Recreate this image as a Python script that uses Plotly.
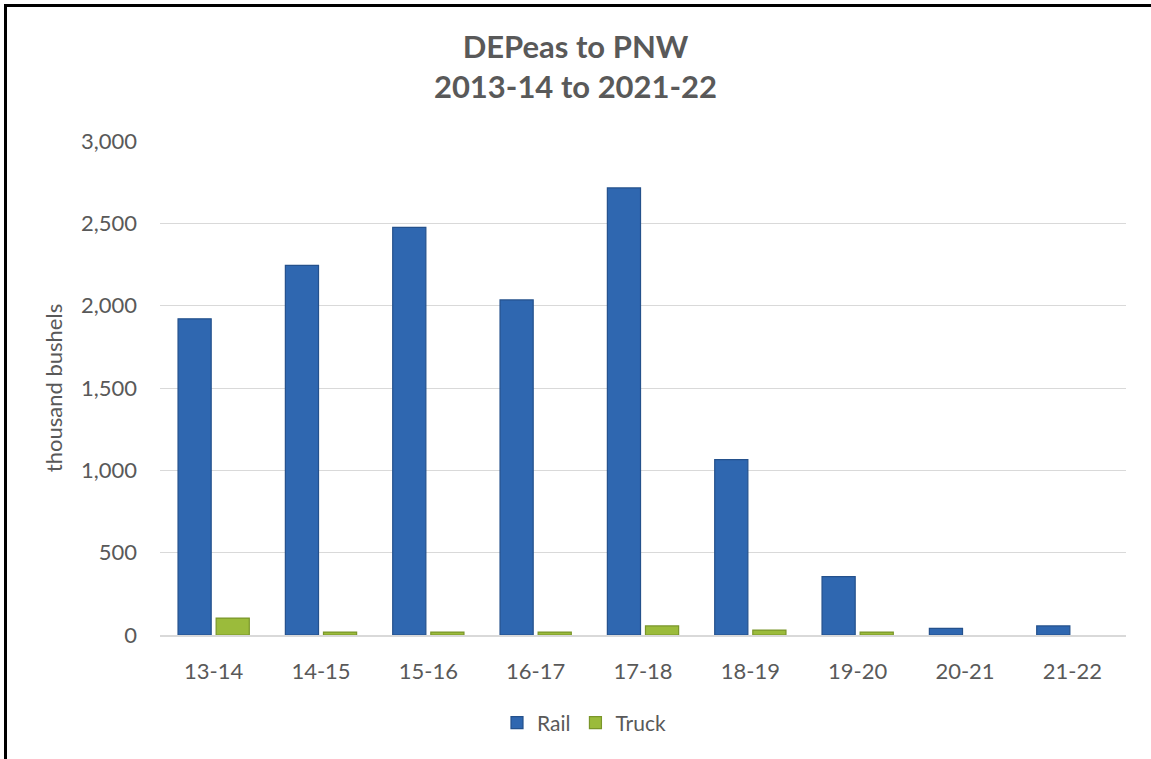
import plotly.graph_objects as go

categories = ["13-14", "14-15", "15-16", "16-17", "17-18", "18-19", "19-20", "20-21", "21-22"]
rail = [1920, 2245, 2475, 2035, 2715, 1065, 355, 40, 55]
truck = [103, 18, 18, 18, 55, 30, 18, 0, 0]
y_ticks = [0, 500, 1000, 1500, 2000, 2500, 3000]
y_tick_labels = ["0", "500", "1,000", "1,500", "2,000", "2,500", "3,000"]

FONT = "Lato"
GREY = "#595959"

fig = go.Figure()
fig.add_trace(go.Bar(
    x=categories, y=rail, name="Rail",
    marker=dict(color="#2F67B0", line=dict(color="#24518C", width=1.2)),
))
fig.add_trace(go.Bar(
    x=categories, y=truck, name="Truck",
    marker=dict(color="#9BBB3B",
                line=dict(color="#7A962A", width=[1.2 if v > 0 else 0 for v in truck])),
))

W, H = 1151, 759
L, R, T, B = 160, 25, 141, 124
pw, ph = W - L - R, H - T - B

fig.update_layout(
    width=W, height=H,
    margin=dict(l=L, r=R, t=T, b=B),
    paper_bgcolor="white", plot_bgcolor="white",
    barmode="group", bargap=0.29, bargroupgap=0.13,
    font=dict(family=FONT, color=GREY, size=22),
    title=dict(
        text="<b>DEPeas to PNW<br>2013-14 to 2021-22</b>",
        x=0.5, xanchor="center", xref="container",
        y=1 - 58 / H, yanchor="top", yref="container",
        font=dict(family=FONT, size=31, color=GREY),
    ),
    legend=dict(
        orientation="h", x=(584 - L) / pw, xanchor="center",
        y=-(723 - (T + ph)) / ph, yanchor="middle",
        font=dict(family=FONT, size=21, color=GREY),
        itemwidth=30, tracegroupgap=0,
    ),
    xaxis=dict(
        showgrid=False, showline=True, linecolor="#D9D9D9", linewidth=1.5,
        ticks="", ticklabelstandoff=16,
        tickfont=dict(family=FONT, size=22, color=GREY),
    ),
    yaxis=dict(
        range=[0, 3000], tickvals=y_ticks, ticktext=y_tick_labels,
        showgrid=True, gridcolor="#D9D9D9", gridwidth=1.3,
        zeroline=False, showline=False, ticks="", ticklabelstandoff=22,
        tickfont=dict(family=FONT, size=22, color=GREY),
        title=dict(text="thousand bushels", standoff=12,
                   font=dict(family=FONT, size=22, color=GREY)),
    ),
    shapes=[dict(
        type="rect", xref="paper", yref="paper",
        x0=(5.5 - L) / pw, x1=(W + 20 - L) / pw,
        y0=-(H + 20 - T - ph) / ph, y1=1 + (T - 5.5) / ph,
        line=dict(color="black", width=3), fillcolor="rgba(0,0,0,0)",
        layer="above",
    )],
)

fig.write_html(
    "out.html",
    config={"displayModeBar": False},
    post_script="document.body.style.margin='0';document.body.style.overflow='hidden';",
)
